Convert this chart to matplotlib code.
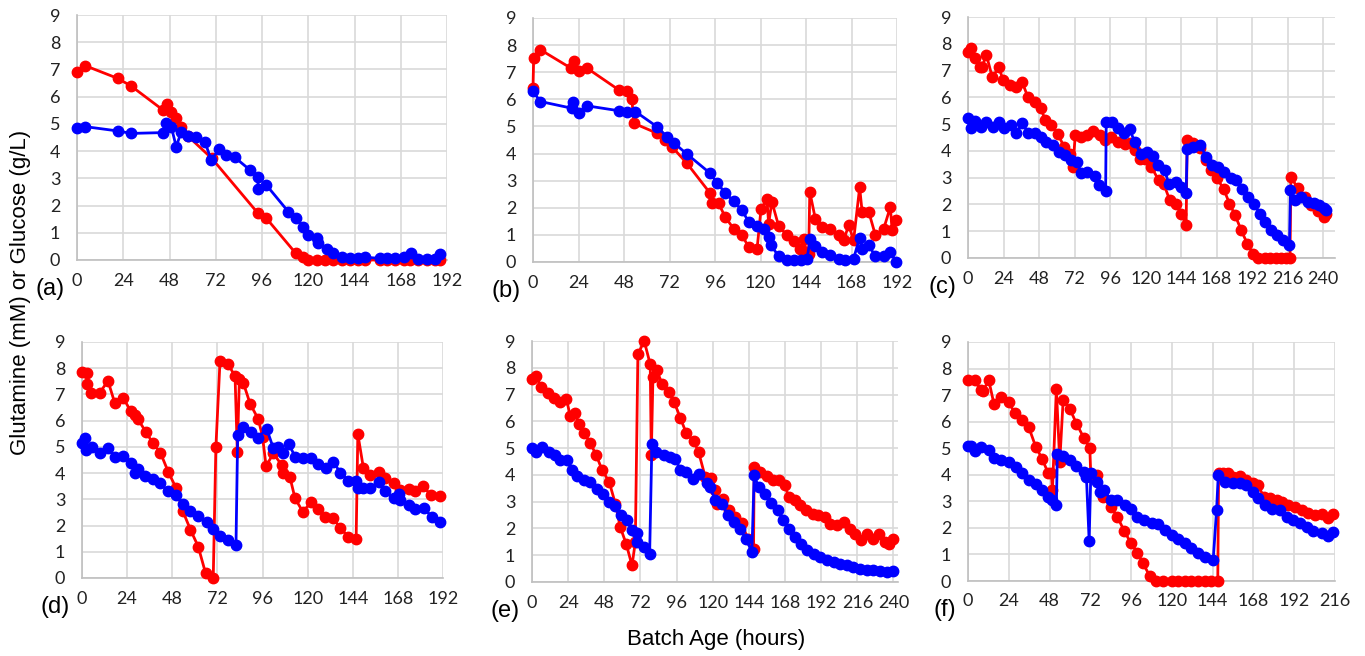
import matplotlib.pyplot as plt

plt.rcParams['font.family'] = ['Liberation Sans', 'DejaVu Sans']

RED = '#FF0000'
BLUE = '#0000FF'
GRID = '#D9D9D9'

# ---- (a) ----
a_red_t = [0, 4.2, 21.2, 28.1, 44.6, 46.8, 48.9, 51.5, 54.1, 57.6, 70, 94, 98.3, 113.6, 117.4,
           120, 124.3, 128.7, 133, 137.4, 141.7, 146, 149.5, 157.3, 160.8, 165.1, 169.5, 172.9,
           177.2, 181.6, 185.9, 188.5]
a_red_v = [6.92, 7.14, 6.67, 6.39, 5.51, 5.73, 5.45, 5.2, 4.9, 4.55, 3.73, 1.71, 1.53, 0.24, 0.12,
           0, 0, 0, 0, 0, 0, 0, 0, 0, 0, 0, 0, 0, 0, 0, 0, 0]
a_blue_t = [0, 4.2, 21.2, 28.1, 44.6, 46.3, 48.9, 51.5, 54, 57.6, 62, 66.3, 69.7, 73.7, 77.5,
            81.9, 89.7, 93.7, 94.1, 98.3, 109.6, 113.9, 117.4, 120, 124.3, 125.2, 129.6, 133,
            137.4, 141.7, 146, 149.5, 157.3, 160.8, 165.1, 169.5, 173.3, 177.2, 181.6, 185.9, 188.5]
a_blue_v = [4.84, 4.9, 4.74, 4.65, 4.68, 5.02, 4.9, 4.16, 4.7, 4.55, 4.53, 4.35, 3.67, 4.07, 3.86,
            3.77, 3.31, 3.06, 2.6, 2.75, 1.78, 1.53, 1.22, 0.92, 0.8, 0.61, 0.39, 0.24,
            0.12, 0.06, 0.06, 0.1, 0.06, 0.06, 0.06, 0.1, 0.24, 0.03, 0.03, 0.03, 0.22]

# ---- (b) ----
b_red_t = [0, 0.35, 3.9, 20, 21.5, 24.1, 28.5, 45.2, 49.6, 52.2, 53.1, 65.4, 69.8, 73.3, 81.2,
           93.5, 94.4, 97.9, 101.4, 105.8, 110.2, 113.8, 118.2, 120.3, 123.4, 124.3, 126, 129.6,
           134, 137.5, 141, 142.8, 144.2, 145.4, 146, 148.9, 152.4, 156.8, 161.2, 163.9, 166.5,
           169.1, 172.3, 173.6, 177.1, 180.6, 185, 188.5, 189.4, 191.6]
b_red_v = [6.41, 7.52, 7.83, 7.15, 7.4, 7.03, 7.15, 6.35, 6.29, 6.0, 5.12, 4.75, 4.5, 4.25, 3.64,
           2.53, 2.16, 2.16, 1.66, 1.23, 0.99, 0.55, 0.49, 1.97, 2.31, 1.42, 2.22, 1.32,
           0.99, 0.78, 0.49, 0.86, 0.37, 0.31, 2.59, 1.6, 1.29, 1.23, 0.99, 0.8, 1.36,
           0.8, 2.75, 1.85, 1.85, 0.99, 1.23, 2.03, 1.17, 1.54]
b_blue_t = [0, 3.9, 20.6, 21.1, 24.1, 28.5, 45.2, 49.6, 54, 65.4, 70.7, 74.2, 81.2, 93.5, 97,
            101.4, 105.8, 110.2, 113.8, 118.2, 121.7, 124.3, 125.5, 129.6, 134, 137.5, 141.4,
            144.5, 146.3, 148.9, 152.4, 156.8, 161.2, 164.7, 169.1, 172.3, 173.6, 177.1, 180.6,
            185, 188.5, 191.6]
b_blue_v = [6.29, 5.92, 5.67, 5.92, 5.49, 5.76, 5.58, 5.55, 5.55, 4.99, 4.62, 4.4, 3.98, 3.27, 2.92,
            2.55, 2.24, 1.91, 1.48, 1.32, 1.23, 0.92, 0.62, 0.21, 0.09, 0.09, 0.09,
            0.12, 0.86, 0.58, 0.37, 0.25, 0.12, 0.09, 0.12, 0.9, 0.49, 0.62, 0.21,
            0.21, 0.37, 0.0]

# ---- (c) ----
c_red_t = [0, 2.3, 4.5, 7.9, 9.5, 12.4, 16.4, 20.9, 23.6, 28.1,
           32.6, 36.5, 40.5, 45, 49.1, 52.2, 56.3, 60.8, 64.8, 68.7,
           70.9, 72.5, 76.5, 80.6, 84.4, 88.9, 92.3, 96.8, 101.3, 105.8,
           109.2, 112.6, 115.9, 119.3, 123.8, 128.8, 132.4, 136.2, 140.7, 144.1,
           147.4, 148.1, 151.9, 157.1, 160.5, 164.3, 168.4, 172.9, 176.7, 180.5,
           184.6, 188.7, 192.5, 196.3, 200.4, 204.4, 208.2, 211.6, 215, 217.6,
           218.2, 222.9, 227.4, 231.9, 236.4, 240.4, 242]
c_red_v = [7.71, 7.84, 7.47, 7.15, 7.15, 7.59, 6.75, 7.13, 6.65, 6.47,
           6.38, 6.59, 6.0, 5.84, 5.59, 5.16, 4.97, 4.63, 4.16, 3.88,
           3.41, 4.6, 4.53, 4.6, 4.74, 4.6, 4.41, 4.53, 4.34, 4.26,
           4.28, 4.03, 3.68, 3.68, 3.41, 2.91, 2.75, 2.18, 2.03, 1.66,
           1.22, 4.41, 4.31, 4.09, 3.66, 3.28, 2.97, 2.56, 2.03, 1.6,
           1.04, 0.54, 0.16, 0.01, 0, 0, 0, 0, 0, 0,
           3.03, 2.6, 2.28, 1.97, 1.75, 1.54, 1.66]
c_blue_t = [0, 1.8, 4.5, 8.6, 12.4, 16.9, 20.9, 24.3, 29.3, 32.6,
            36.5, 40.5, 45, 49.1, 52.9, 57.4, 61.5, 65.3, 69.3, 73.8,
            76.5, 80.6, 85.5, 88.5, 93, 93.4, 97.3, 101.3, 105.3, 109.2,
            112.6, 116.6, 121.1, 125, 128.3, 132.8, 135.7, 140.7, 144.1, 147.4,
            148.1, 151.9, 157.1, 160.9, 164.8, 168.8, 173.3, 177.4, 181.2, 185,
            189.1, 193.2, 197, 200.8, 204.9, 208.9, 212.7, 217.2, 217.9, 221.1,
            225.1, 229.6, 233.7, 237.5, 240.4, 242]
c_blue_v = [5.22, 4.84, 5.13, 4.91, 5.09, 4.88, 5.09, 4.84, 4.97, 4.66,
            5.06, 4.68, 4.66, 4.53, 4.34, 4.22, 3.97, 3.85, 3.66, 3.6,
            3.16, 3.22, 3.06, 2.72, 2.5, 5.09, 5.09, 4.84, 4.66, 4.81,
            4.34, 3.88, 3.97, 3.81, 3.47, 3.28, 2.78, 2.85, 2.66, 2.43,
            4.06, 4.16, 4.22, 3.78, 3.47, 3.38, 3.22, 2.97, 2.93, 2.56,
            2.28, 2.03, 1.66, 1.35, 1.06, 0.85, 0.66, 0.47, 2.53, 2.16,
            2.28, 2.1, 2.06, 1.97, 1.85, 1.78]

# ---- (d) ----
d_red_t = [0, 2.5, 2.7, 5, 9.4, 13.8, 17.4, 21.8, 25.8, 28.1,
           29.8, 33.9, 37.8, 41.7, 45.8, 49.9, 53.5, 57.7, 61.8, 65.7,
           69.8, 71.2, 73.4, 77.8, 81.4, 82.6, 83.7, 85.8, 89.4, 93.8,
           96, 97.9, 101.8, 106.2, 107.1, 110.6, 113.3, 117.4, 121.8, 125.7,
           129.3, 133.7, 137.3, 141.7, 145.8, 146.7, 149.7, 153.3, 157.7, 161.3,
           165.7, 169.3, 173.7, 177.2, 181.3, 185.6, 190.2]
d_red_v = [7.86, 7.8, 7.41, 7.06, 7.06, 7.52, 6.68, 6.88, 6.38, 6.21,
           6.05, 5.58, 5.13, 4.78, 4.06, 3.45, 2.57, 1.84, 1.2, 0.19,
           0.0, 4.98, 8.28, 8.15, 7.69, 4.82, 7.6, 7.44, 6.65, 6.05,
           5.39, 4.27, 4.75, 4.31, 3.99, 3.84, 3.04, 2.53, 2.88, 2.62,
           2.34, 2.28, 1.9, 1.58, 1.48, 5.49, 4.18, 3.93, 4.06, 3.8,
           3.61, 3.36, 3.38, 3.33, 3.49, 3.17, 3.11]
d_blue_t = [0, 1.8, 2.2, 5.5, 9.4, 13.8, 17.4, 21.8, 25.8, 28.4,
            29.8, 33.7, 37.8, 41.7, 45.8, 49.9, 53.8, 57.7, 61.8, 66.3,
            69.8, 73.4, 77.8, 81.9, 82.8, 85.8, 89.7, 93.4, 98.2, 101.8,
            104.5, 106.7, 110, 113.3, 117.4, 121.8, 125.7, 129.8, 133.7, 137.3,
            141.7, 145.8, 147, 149.7, 153.3, 157.7, 161.3, 165.7, 168.4, 169.3,
            173.7, 177.2, 181.7, 186.1, 190.2]
d_blue_v = [5.13, 5.32, 4.88, 5.0, 4.78, 4.94, 4.63, 4.65, 4.37, 3.99,
            4.14, 3.89, 3.76, 3.61, 3.3, 3.17, 2.83, 2.57, 2.37, 2.15,
            1.86, 1.61, 1.46, 1.27, 5.45, 5.74, 5.58, 5.32, 5.7, 4.94,
            5.0, 4.75, 5.11, 4.63, 4.56, 4.56, 4.35, 4.18, 4.44, 4.02,
            3.71, 3.7, 3.42, 3.42, 3.42, 3.68, 3.3, 3.04, 3.21, 2.98,
            2.79, 2.62, 2.66, 2.34, 2.12]

# ---- (e) ----
e_red_t = [0, 2.9, 6, 10.4, 14.8, 18.8, 22.8, 25.4, 28.8, 31,
           34.7, 38.7, 42.7, 46.4, 51.3, 55.3, 58.6, 62.6, 66.4, 68.6,
           70.3, 74.5, 78.5, 79.2, 80.3, 82.9, 86.3, 90.7, 94.4, 98.4,
           102.4, 107.3, 110.6, 115, 118.8, 121.7, 122.8, 126.7, 130.5, 135,
           139.4, 143.1, 147.1, 147.5, 151.5, 155.9, 159.9, 163.7, 168.1, 170.3,
           174.3, 178.1, 182, 186.5, 190.2, 194.6, 198, 202.4, 206.9, 210.8,
           214.6, 218.6, 222.4, 226.3, 230.7, 234.5, 237.3, 240]
e_red_v = [7.59, 7.68, 7.28, 7.06, 6.88, 6.72, 6.85, 6.19, 6.31, 5.91,
           5.56, 5.19, 4.73, 4.2, 3.73, 2.93, 2.05, 1.41, 0.62, 1.49,
           8.5, 9.0, 8.13, 4.73, 7.66, 7.9, 7.41, 7.1, 6.72, 6.14,
           5.56, 5.27, 4.86, 3.92, 3.9, 3.42, 2.93, 3.11, 2.68, 2.43,
           2.2, 1.62, 1.24, 4.29, 4.11, 3.95, 3.82, 3.82, 3.61, 3.17,
           3.05, 2.86, 2.68, 2.55, 2.49, 2.43, 2.18, 2.12, 2.24, 1.99,
           1.8, 1.56, 1.8, 1.62, 1.8, 1.49, 1.43, 1.62]
e_blue_t = [0, 2.9, 6.6, 11.1, 15.5, 18.8, 23.2, 26.5, 29.9, 34.3,
            38.7, 43.1, 47.1, 50.9, 55.3, 59.1, 63, 66.4, 69.7, 69.9,
            74.1, 78.1, 79.6, 82.5, 87.4, 91.4, 95.1, 98.4, 102.4, 106.8,
            110.6, 116.1, 118.3, 121.7, 126.1, 130.1, 133.8, 137.8, 142, 146,
            147.5, 150.4, 154.8, 158.6, 163.1, 166.6, 170.3, 174.3, 178.5, 182.9,
            186.9, 191.3, 195.8, 200.2, 204.6, 209, 213.4, 217.9, 222.3, 226.7,
            231.1, 235.6, 240]
e_blue_v = [5.02, 4.85, 5.04, 4.85, 4.73, 4.54, 4.57, 4.17, 3.95, 3.8,
            3.73, 3.49, 3.3, 2.99, 2.83, 2.49, 2.3, 1.93, 1.83, 1.49,
            1.31, 1.03, 5.17, 4.86, 4.73, 4.67, 4.61, 4.2, 4.11, 3.86,
            4.02, 3.7, 3.55, 3.05, 2.93, 2.49, 2.24, 1.99, 1.62, 1.12,
            3.98, 3.55, 3.3, 2.95, 2.7, 2.3, 1.99, 1.68, 1.41, 1.21,
            1.06, 0.93, 0.83, 0.75, 0.68, 0.62, 0.56, 0.5, 0.46, 0.44,
            0.41, 0.37, 0.41]

# ---- (f) ----
f_red_t = [0, 3.9, 7.5, 8.8, 12.2, 15.3, 19.6, 23.9, 27.5, 31.8,
           35.7, 39.9, 43.6, 47.1, 49.1, 49.7, 52, 54, 56, 59.9,
           63.8, 68.1, 71.7, 72.3, 76.2, 79.5, 84, 87.9, 91.9, 95.8,
           99.7, 103, 107, 110.9, 114.9, 119.8, 123.7, 127.6, 131.5, 135.5,
           139.4, 143.3, 147, 147.5, 150.2, 152.8, 156.1, 160, 163.9, 167.8,
           170.4, 174.3, 177.7, 181.6, 184.6, 188.6, 192.5, 196.3, 200.3, 204.2,
           208.1, 211.6, 215]
f_red_v = [7.56, 7.56, 7.18, 7.16, 7.56, 6.66, 6.93, 6.74, 6.33, 6.08,
           5.8, 5.05, 4.61, 4.07, 4.05, 3.42, 7.24, 4.49, 6.81, 6.49,
           5.93, 5.4, 4.99, 3.92, 3.99, 3.17, 2.8, 2.42, 1.89, 1.44,
           1.07, 0.66, 0.19, 0.0, 0, 0, 0, 0, 0, 0,
           0, 0, 0, 4.05, 4.07, 4.07, 3.92, 3.95, 3.82, 3.7,
           3.61, 3.17, 3.11, 3.05, 2.98, 2.86, 2.8, 2.67, 2.57, 2.48,
           2.54, 2.36, 2.52]
f_blue_t = [0, 2, 3.9, 7.8, 12.2, 15.3, 19.6, 23.9, 28.5, 31.8,
            35.7, 39.9, 43.6, 47.1, 49.7, 52, 52.6, 56, 59.9, 63.8,
            68.1, 69.7, 71.3, 72.3, 76.2, 77.6, 80.1, 84, 87.9, 92.3,
            96.2, 99.7, 103.7, 108, 111.9, 115.8, 119.8, 123.7, 127.6, 131.5,
            135.5, 139.4, 144.3, 146.3, 147.3, 151.2, 156.1, 160, 163.9, 167.8,
            170.4, 174.7, 178.7, 183.6, 187.5, 191.4, 195.4, 199.3, 203.3, 208.1,
            211.6, 215]
f_blue_v = [5.08, 5.08, 4.9, 5.05, 4.95, 4.65, 4.57, 4.49, 4.3, 4.07,
            3.82, 3.65, 3.42, 3.17, 3.05, 2.86, 4.8, 4.7, 4.57, 4.32,
            4.11, 3.92, 1.52, 4.05, 3.74, 3.36, 3.42, 3.05, 3.05, 2.86,
            2.7, 2.42, 2.29, 2.17, 2.14, 1.92, 1.73, 1.57, 1.42, 1.23,
            1.07, 0.92, 0.79, 2.67, 3.99, 3.74, 3.7, 3.7, 3.61, 3.36,
            3.11, 2.86, 2.73, 2.67, 2.42, 2.29, 2.17, 2.02, 1.89, 1.79,
            1.69, 1.86]

panels = [
    ('(a)', a_red_t, a_red_v, a_blue_t, a_blue_v, 192, 192, (77, 15, 447, 260)),
    ('(b)', b_red_t, b_red_v, b_blue_t, b_blue_v, 192, 192, (533, 18, 897, 262)),
    ('(c)', c_red_t, c_red_v, c_blue_t, c_blue_v, 248, 240, (968, 17, 1335, 258)),
    ('(d)', d_red_t, d_red_v, d_blue_t, d_blue_v, 192, 192, (82, 342, 443, 578)),
    ('(e)', e_red_t, e_red_v, e_blue_t, e_blue_v, 243, 240, (532, 341, 898, 582)),
    ('(f)', f_red_t, f_red_v, f_blue_t, f_blue_v, 216, 216, (968, 342, 1335, 581)),
]

W, H = 1365, 656
fig = plt.figure(figsize=(W / 100, H / 100), dpi=100)

for label, rt, rv, bt, bv, xmax, tmax, (x0, y0, x1, y1) in panels:
    ax = fig.add_axes([x0 / W, 1 - y1 / H, (x1 - x0) / W, (y1 - y0) / H])
    ax.plot(rt, rv, '-o', color=RED, lw=2, ms=7.5, zorder=3, clip_on=False)
    ax.plot(bt, bv, '-o', color=BLUE, lw=2, ms=7.5, zorder=4, clip_on=False)
    ax.set_xlim(0, xmax)
    ax.set_ylim(0, 9)
    ax.set_xticks(range(0, tmax + 1, 24))
    ax.set_yticks(range(0, 10))
    ax.grid(True, color=GRID, lw=1.2)
    ax.set_axisbelow(True)
    for s in ['top', 'right']:
        ax.spines[s].set_visible(False)
    for s in ['left', 'bottom']:
        ax.spines[s].set_color('#BFBFBF')
        ax.spines[s].set_linewidth(1.2)
    ax.tick_params(length=0, labelsize=13, colors='#222222')
    ax.tick_params(axis='y', pad=12)
    ax.tick_params(axis='x', pad=9)
    for t in ax.get_xticklabels() + ax.get_yticklabels():
        t.set_fontfamily(['Lato', 'DejaVu Sans'])
    ax.annotate(label, xy=(0, 0), xycoords='axes fraction', xytext=(-12, -29),
                textcoords='offset pixels', ha='right', va='center', fontsize=17)

fig.text(21 / W, 1 - 292 / H, 'Glutamine (mM) or Glucose (g/L)', rotation=90,
         ha='center', va='center', fontsize=16)
fig.text(716 / W, 1 - 640 / H, 'Batch Age (hours)', ha='center', va='center', fontsize=16)

fig.savefig('out.png', dpi=100)
